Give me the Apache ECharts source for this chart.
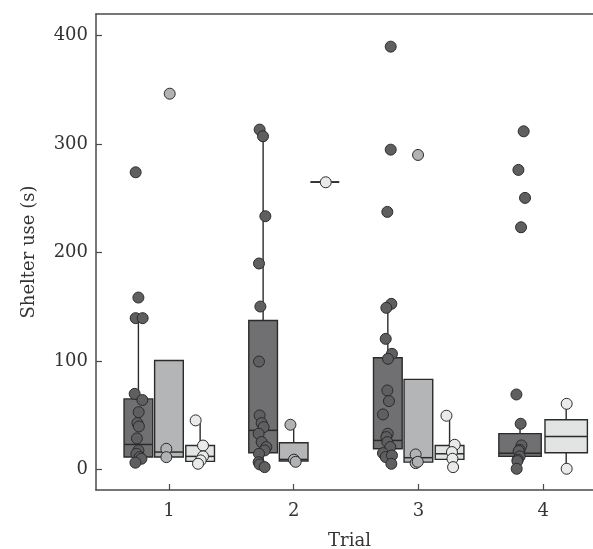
<!DOCTYPE html>
<html>
<head>
<meta charset="utf-8">
<script src="https://cdn.jsdelivr.net/npm/echarts@6/dist/echarts.min.js"></script>
<style>
  html, body { margin: 0; padding: 0; background: #fff; }
  #chart { width: 593px; height: 549px; }
</style>
</head>
<body>
<div id="chart"></div>
<script>
  var trials = [1, 2, 3, 4]
  var yTicks = [0, 100, 200, 300, 400]

  // box stats per trial: [min, q1, median, q3, max]; null = group absent
  var boxDark = [[6, 11.5, 23, 65, 140], [2, 15.4, 36, 137.3, 313], [5, 19, 26.7, 103, 152.7], [0.6, 12, 15, 33, 42]]
  var boxLight = [[11.4, 11.4, 16, 100.5, 100.5], [7.4, 7.7, 9.2, 24.6, 41], [6.7, 6.7, 10.8, 83, 83], null]
  var boxPale = [[5, 7.4, 12, 22, 45], [265, 265, 265, 265, 265], [2, 9.2, 14.4, 22, 49.5], [0.6, 15.4, 30.4, 45.8, 60.5]]

  // raw observations [trial position with jitter, seconds]
  var ptsDark = [
    [0.733, 274], [0.755, 158.5], [0.733, 139.5], [0.789, 139.5], [0.725, 69.7], [0.787, 64],
    [0.757, 52.8], [0.747, 42.7], [0.759, 39.6], [0.743, 28.6], [0.755, 17.5], [0.739, 14.4],
    [0.765, 11.3], [0.779, 9.8], [0.731, 6.2],
    [1.727, 313.4], [1.754, 307.2], [1.773, 233.5], [1.722, 189.9], [1.733, 150.2], [1.722, 99.5],
    [1.727, 49.8], [1.743, 42.7], [1.759, 39], [1.719, 32.9], [1.743, 25.2], [1.781, 20.6],
    [1.767, 17.5], [1.722, 14.4], [1.719, 6.7], [1.727, 4.6], [1.767, 2.1],
    [2.778, 389.9], [2.778, 294.9], [2.751, 237.5], [2.783, 152.7], [2.743, 149], [2.738, 120.4],
    [2.788, 106.6], [2.756, 102], [2.751, 72.8], [2.764, 63], [2.716, 50.7], [2.754, 32.9],
    [2.743, 29.8], [2.751, 25.2], [2.775, 20.6], [2.716, 15], [2.738, 11.4], [2.788, 12.9], [2.783, 5.2],
    [3.844, 311.8], [3.802, 276.2], [3.855, 250.4], [3.823, 223.3], [3.786, 69.1], [3.820, 42.1],
    [3.826, 22.1], [3.812, 18], [3.804, 16.9], [3.812, 12], [3.796, 9], [3.794, 7.7], [3.788, 0.6]
  ]
  var ptsLight = [
    [1.006, 346.5], [0.979, 19], [0.979, 11.3],
    [1.974, 41.2], [2.002, 9], [2.016, 7],
    [2.997, 290], [2.978, 13.8], [2.978, 5.8], [2.995, 7]
  ]
  var ptsPale = [
    [1.214, 45.2], [1.273, 22], [1.273, 12], [1.254, 8.3], [1.233, 5.2],
    [2.257, 264.8],
    [3.225, 49.5], [3.291, 22.7], [3.269, 16], [3.273, 9.8], [3.278, 2.1],
    [4.189, 60.5], [4.189, 0.6]
  ]

  var groups = [boxDark, boxLight, boxPale]
  var lineColor = '#2b2b2b'
  var axisColor = '#4a4a4a'
  var fontFamily = 'DejaVu Serif'

  // where a group's box sits inside its trial
  function slotOf (trialIdx, groupIdx) {
    var present = []
    groups.forEach(function (g, k) { if (g[trialIdx]) present.push(k) })
    var pos = present.indexOf(groupIdx)
    if (present.length === 3) return {off: [-0.245, 0, 0.25][pos], w: 0.23}
    return {off: [-0.185, 0.185][pos], w: 0.34}
  }

  function boxSeries (stats, groupIdx, fill) {
    var data = []
    stats.forEach(function (s, i) { if (s) data.push([i].concat(s)) })
    return {
      type: 'custom',
      z: 2,
      silent: true,
      encode: {x: 0, y: [1, 2, 3, 4, 5]},
      renderItem: function (params, api) {
        var ti = api.value(0)
        var slot = slotOf(ti, groupIdx)
        var cx = trials[ti] + slot.off
        var xl = api.coord([cx - slot.w / 2, 0])[0]
        var xr = api.coord([cx + slot.w / 2, 0])[0]
        var xc = api.coord([cx, 0])[0]
        var yMin = api.coord([cx, api.value(1)])[1]
        var yQ1 = api.coord([cx, api.value(2)])[1]
        var yMed = api.coord([cx, api.value(3)])[1]
        var yQ3 = api.coord([cx, api.value(4)])[1]
        var yMax = api.coord([cx, api.value(5)])[1]
        var st = {stroke: lineColor, lineWidth: 1.4}
        return {
          type: 'group',
          children: [
            {type: 'line', shape: {x1: xc, y1: yQ3, x2: xc, y2: yMax}, style: st},
            {type: 'line', shape: {x1: xc, y1: yQ1, x2: xc, y2: yMin}, style: st},
            {type: 'rect', shape: {x: xl, y: yQ3, width: xr - xl, height: yQ1 - yQ3},
              style: {fill: fill, stroke: lineColor, lineWidth: 1.4}},
            {type: 'line', shape: {x1: xl, y1: yMed, x2: xr, y2: yMed}, style: {stroke: lineColor, lineWidth: 1.5}}
          ]
        }
      },
      data: data
    }
  }

  function pointSeries (pts, fill) {
    return {
      type: 'scatter',
      z: 3,
      silent: true,
      symbolSize: 11,
      itemStyle: {color: fill, borderColor: lineColor, borderWidth: 1, opacity: 1},
      data: pts
    }
  }

  var chart = echarts.init(document.getElementById('chart'))
  var option = {
    animation: false,
    grid: {left: 96, top: 14, right: 0, bottom: 59, containLabel: false, outerBoundsMode: 'none'},
    xAxis: [
      {
        type: 'value',
        min: 0.415,
        max: 4.40,
        name: 'Trial',
        nameLocation: 'middle',
        nameGap: 42,
        nameTextStyle: {fontFamily: fontFamily, fontSize: 18, color: '#333', padding: [0, 0, 0, 10]},
        axisLine: {show: true, onZero: false, lineStyle: {color: axisColor, width: 1.5}},
        axisTick: {show: true, inside: true, length: 6, customValues: trials, lineStyle: {color: axisColor, width: 1.2}},
        axisLabel: {customValues: trials, fontFamily: fontFamily, fontSize: 18, color: '#333', margin: 12},
        splitLine: {show: false}
      },
      {
        // plain frame line along the top
        type: 'value',
        position: 'top',
        min: 0.415,
        max: 4.40,
        axisLine: {show: true, onZero: false, lineStyle: {color: axisColor, width: 1.5}},
        axisTick: {show: false},
        axisLabel: {show: false},
        splitLine: {show: false}
      }
    ],
    yAxis: {
      type: 'value',
      min: -19,
      max: 420,
      name: 'Shelter use (s)',
      nameLocation: 'middle',
      nameGap: 58,
      nameTextStyle: {fontFamily: fontFamily, fontSize: 18, color: '#333'},
      axisLine: {show: true, onZero: false, lineStyle: {color: axisColor, width: 1.5}},
      axisTick: {show: true, inside: true, length: 6, customValues: yTicks, lineStyle: {color: axisColor, width: 1.2}},
      axisLabel: {customValues: yTicks, fontFamily: fontFamily, fontSize: 18, color: '#333', margin: 8},
      splitLine: {show: false}
    },
    series: [
      boxSeries(boxDark, 0, '#707072'),
      boxSeries(boxLight, 1, '#b3b5b7'),
      boxSeries(boxPale, 2, '#e2e4e4'),
      pointSeries(ptsDark, '#5f5f61'),
      pointSeries(ptsLight, '#b0b2b4'),
      pointSeries(ptsPale, '#e9ebeb')
    ]
  }
  chart.setOption(option)
</script>
</body>
</html>
